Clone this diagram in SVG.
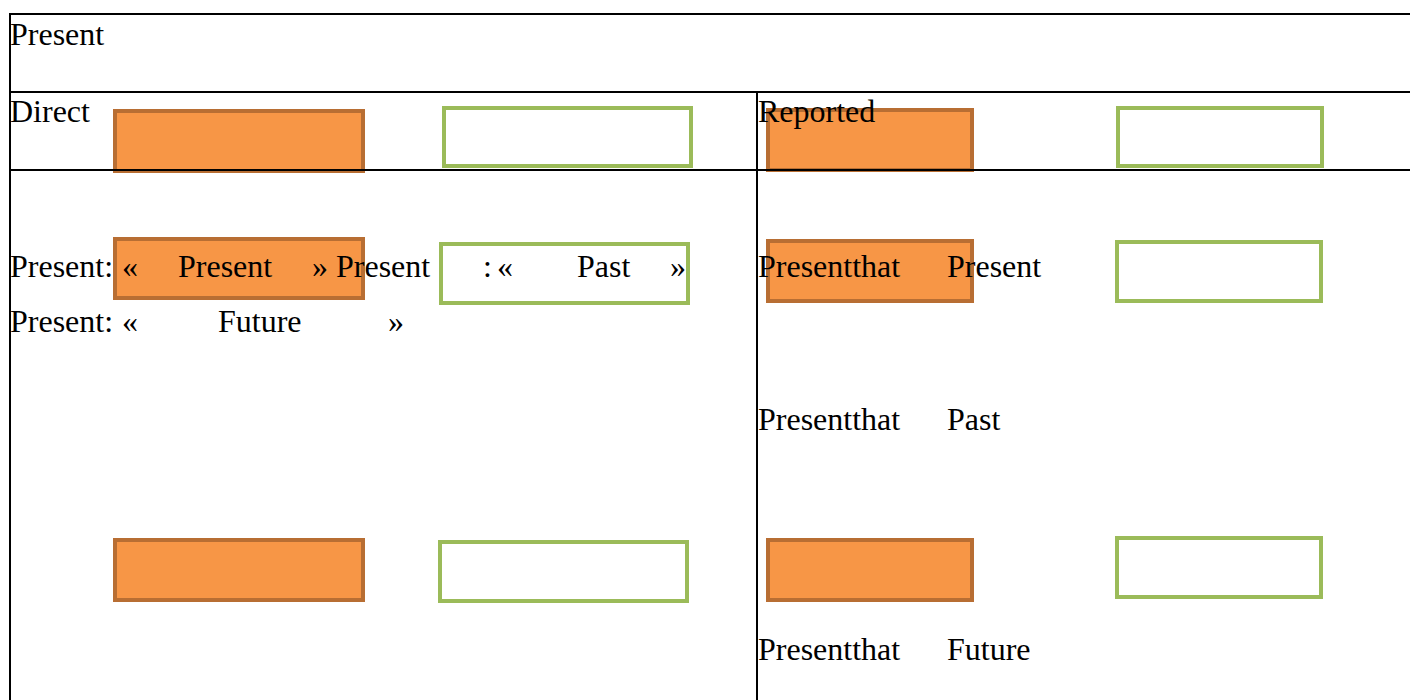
<svg xmlns="http://www.w3.org/2000/svg" width="1410" height="700" viewBox="0 0 1410 700">
<style>
.o{fill:#F79646;stroke:#B86E33;stroke-width:4}
.g{fill:#FFFFFF;stroke:#9BBB59;stroke-width:4}
.ln{stroke:#000;stroke-width:2;fill:none}
.t{font-family:"Liberation Serif","Times New Roman",serif;font-size:32px;fill:#000}
</style>
<rect width="1410" height="700" fill="#FFFFFF"/>
<g id="shapes">
<g id="orange-1"><rect class="o" x="115" y="111" width="248" height="60"/></g>
<g id="green-1"><rect class="g" x="444" y="108" width="247" height="58"/></g>
<g id="orange-2"><rect class="o" x="115" y="239" width="248" height="59"/></g>
<g id="green-2"><rect class="g" x="441" y="244" width="247" height="59"/></g>
<g id="orange-3"><rect class="o" x="115" y="540" width="248" height="60"/></g>
<g id="green-3"><rect class="g" x="440" y="542" width="247" height="59"/></g>
<g id="orange-4"><rect class="o" x="768" y="110" width="204" height="60"/></g>
<g id="green-4"><rect class="g" x="1118" y="108" width="204" height="58"/></g>
<g id="orange-5"><rect class="o" x="768" y="241" width="204" height="60"/></g>
<g id="green-5"><rect class="g" x="1117" y="242" width="204" height="59"/></g>
<g id="orange-6"><rect class="o" x="768" y="540" width="204" height="60"/></g>
<g id="green-6"><rect class="g" x="1117" y="538" width="204" height="59"/></g>
</g>
<g id="table">
<line class="ln" x1="9" y1="14" x2="1410" y2="14"/>
<line class="ln" x1="9" y1="92" x2="1410" y2="92"/>
<line class="ln" x1="9" y1="170" x2="1410" y2="170"/>
<line class="ln" x1="10" y1="13" x2="10" y2="700"/>
<line class="ln" x1="757" y1="92" x2="757" y2="700"/>
</g>
<g id="texts">
<text class="t" x="10" y="45">Present</text>
<text class="t" x="10" y="122">Direct</text>
<text class="t" x="758" y="122">Reported</text>
<text class="t" x="10" y="277">Present:</text>
<text class="t" x="122" y="277">«</text>
<text class="t" x="178" y="277">Present</text>
<text class="t" x="312" y="277">»</text>
<text class="t" x="336" y="277">Present</text>
<text class="t" x="483" y="277">:</text>
<text class="t" x="497" y="277">«</text>
<text class="t" x="577" y="277">Past</text>
<text class="t" x="670" y="277">»</text>
<text class="t" x="10" y="332">Present:</text>
<text class="t" x="122" y="332">«</text>
<text class="t" x="218" y="332">Future</text>
<text class="t" x="388" y="332">»</text>
<text class="t" x="758" y="277">Presentthat</text>
<text class="t" x="947" y="277">Present</text>
<text class="t" x="758" y="430">Presentthat</text>
<text class="t" x="947" y="430">Past</text>
<text class="t" x="758" y="660">Presentthat</text>
<text class="t" x="947" y="660">Future</text>
</g>
</svg>
